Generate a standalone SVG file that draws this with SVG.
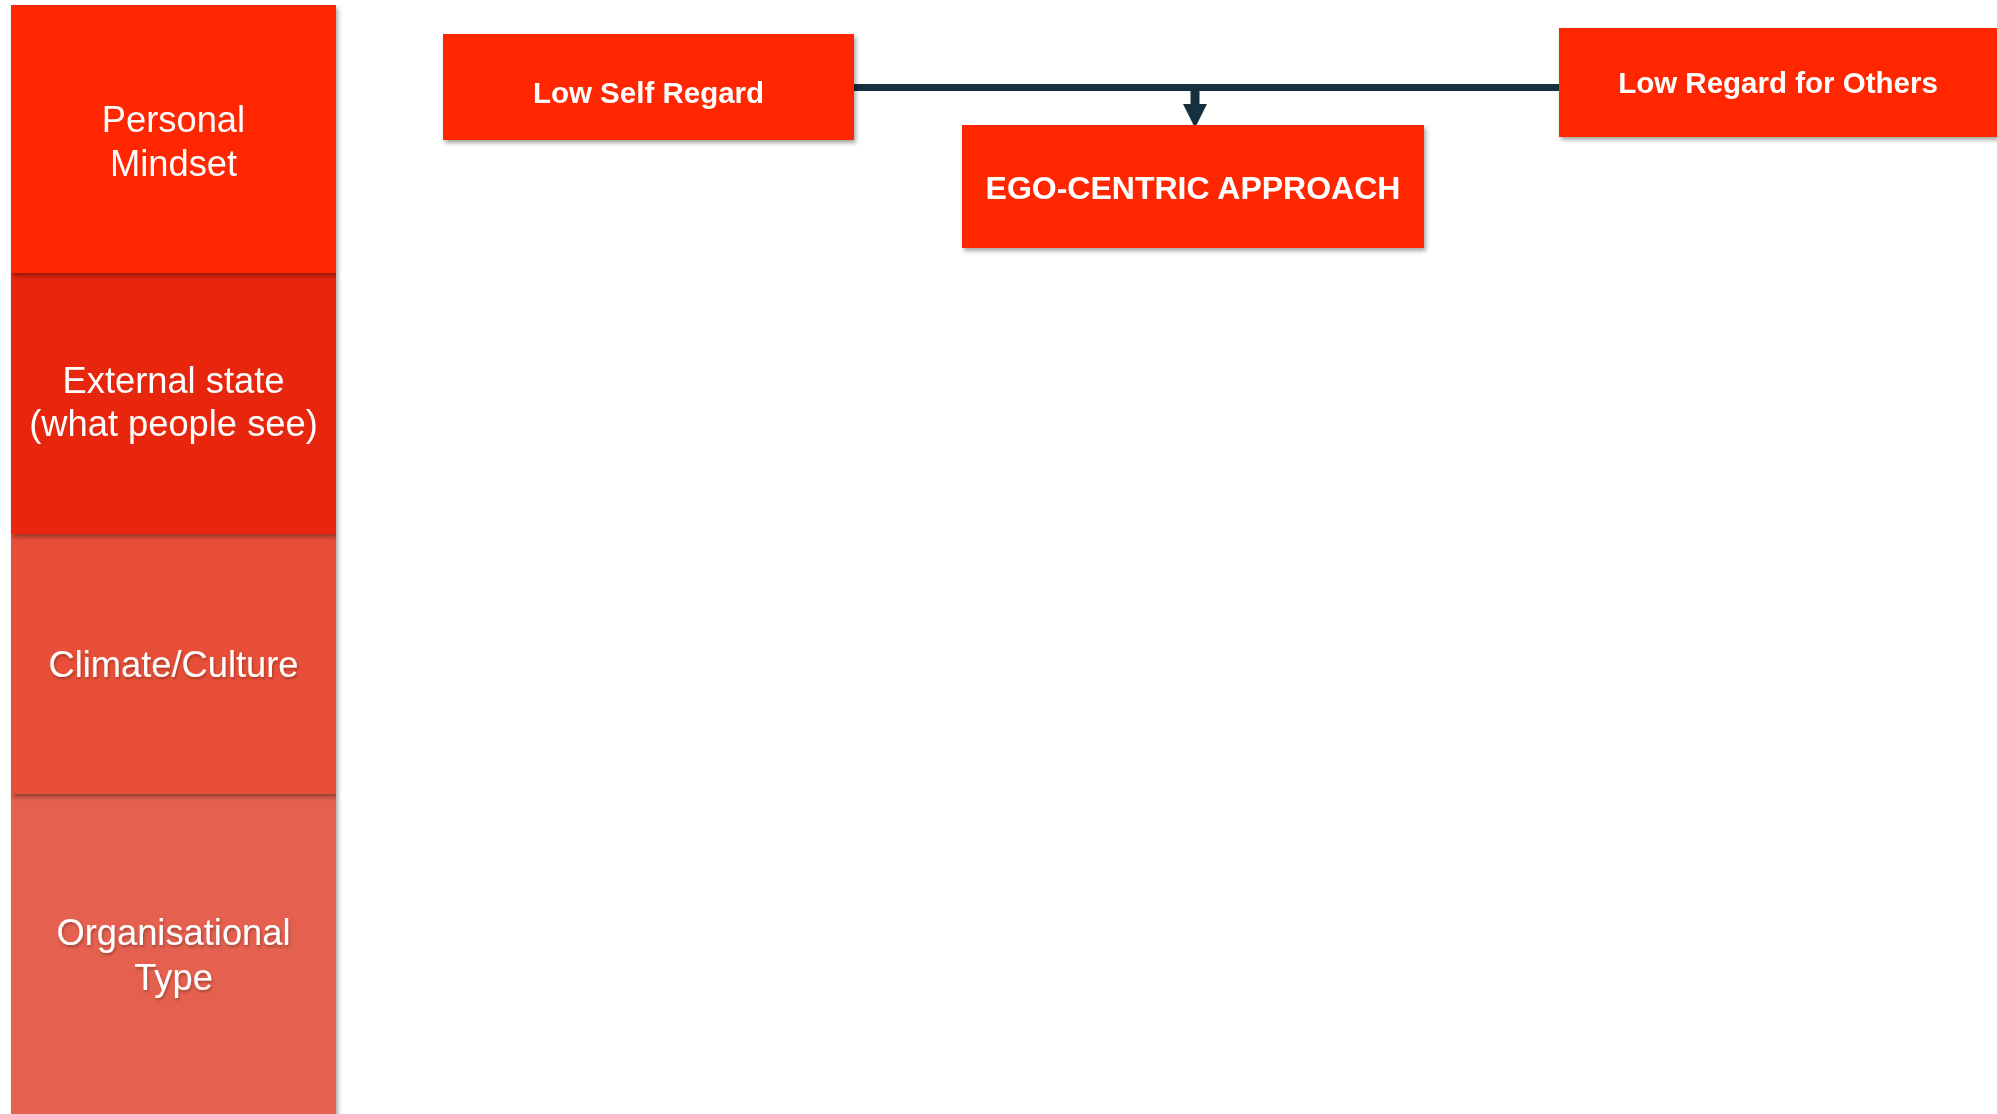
<svg xmlns="http://www.w3.org/2000/svg" width="1997" height="1114" viewBox="0 0 1997 1114">
<defs>
<style>
.band-text{font-family:"Liberation Sans",Arial,sans-serif;font-size:36.3px;fill:#ffffff;text-anchor:middle}
.box-text{font-family:"Liberation Sans",Arial,sans-serif;font-weight:bold;font-size:29.5px;fill:#ffffff;text-anchor:middle}
.box{fill:#ff2600}
.conn{stroke:#16303d;stroke-width:7;fill:none}
</style>
<filter id="shadow" x="-5%" y="-10%" width="115%" height="130%">
<feDropShadow dx="2" dy="3" stdDeviation="2" flood-color="#000" flood-opacity="0.35"/>
</filter>
<filter id="tshadow" x="-10%" y="-30%" width="120%" height="160%">
<feDropShadow dx="1" dy="2" stdDeviation="1.5" flood-color="#000" flood-opacity="0.3"/>
</filter>
</defs>
<rect x="0" y="0" width="1997" height="1114" fill="#ffffff"/>

<g id="layer-organisational-type" filter="url(#shadow)">
<rect x="11" y="794" width="325" height="325" fill="#e56150"/>
<text class="band-text" x="173.5" y="945" filter="url(#tshadow)">Organisational</text>
<text class="band-text" x="173.5" y="990" filter="url(#tshadow)">Type</text>
</g>
<g id="layer-climate-culture" filter="url(#shadow)">
<rect x="11" y="534" width="325" height="260" fill="#e85038"/>
<text class="band-text" x="173.5" y="677" filter="url(#tshadow)">Climate/Culture</text>
</g>
<g id="layer-external-state" filter="url(#shadow)">
<rect x="11" y="273" width="325" height="261" fill="#e8270b"/>
<text class="band-text" x="173.5" y="393">External state</text>
<text class="band-text" x="173.5" y="436">(what people see)</text>
</g>
<g id="layer-personal-mindset" filter="url(#shadow)">
<rect x="11" y="5" width="325" height="268" fill="#ff2600"/>
<text class="band-text" x="173.5" y="132">Personal</text>
<text class="band-text" x="173.5" y="176">Mindset</text>
</g>

<g id="connectors">
<path class="conn" d="M854,87.5 L1559,87.5"/>
<path class="conn" d="M1195,90 L1195,106" style="stroke-width:9"/>
<path d="M1183,104 L1207,104 L1195,128 Z" fill="#16303d"/>
</g>

<g id="node-low-self-regard" filter="url(#shadow)">
<rect class="box" x="443" y="34" width="411" height="106"/>
<text class="box-text" x="648.5" y="103">Low Self Regard</text>
</g>
<g id="node-low-regard-for-others" filter="url(#shadow)">
<rect class="box" x="1559" y="28" width="440" height="109"/>
<text class="box-text" x="1778" y="93">Low Regard for Others</text>
</g>
<g id="node-ego-centric" filter="url(#shadow)">
<rect class="box" x="962" y="125" width="462" height="123"/>
<text class="box-text" x="1193" y="199" style="font-size:32px">EGO-CENTRIC APPROACH</text>
</g>
</svg>
